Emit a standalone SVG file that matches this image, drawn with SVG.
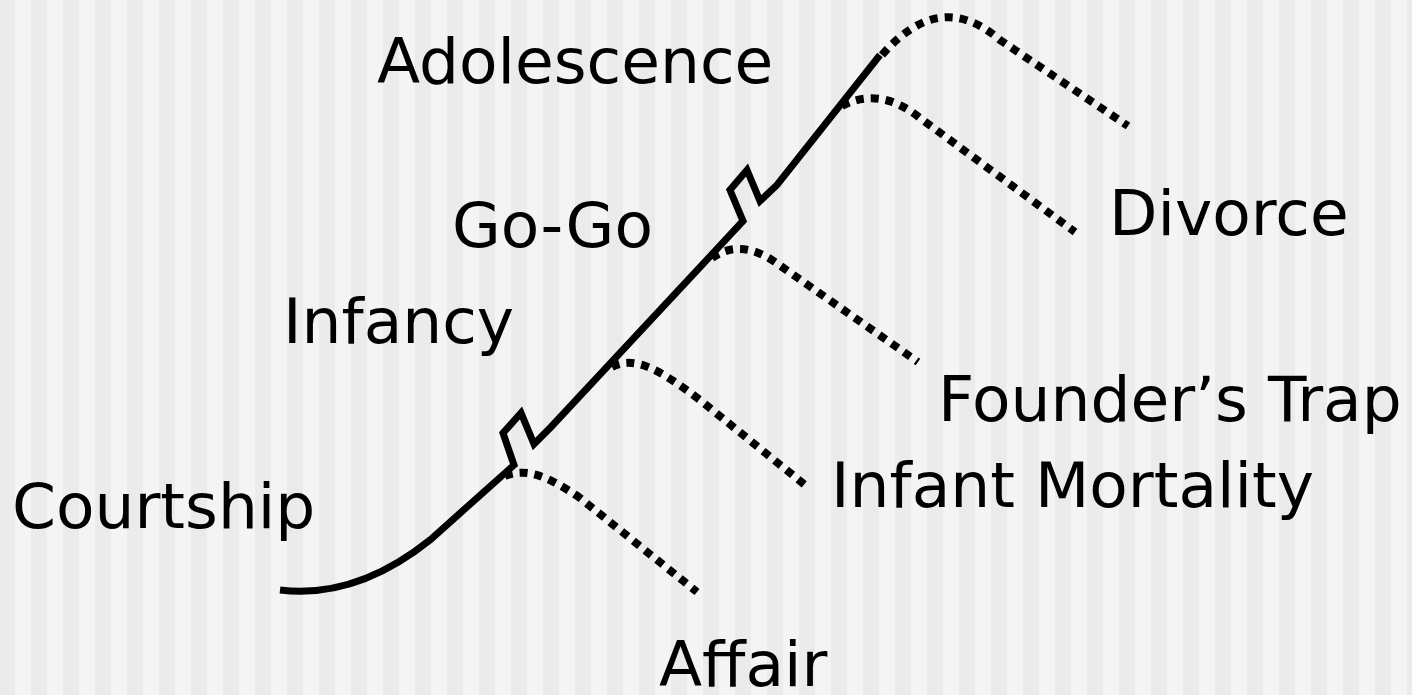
<svg xmlns="http://www.w3.org/2000/svg" width="1412" height="695" viewBox="0 0 1412 695">
<style>
.lbl{font-family:"DejaVu Sans","Verdana",sans-serif;font-size:63px;fill:#000}
.main{fill:none;stroke:#000;stroke-width:7;stroke-linejoin:miter;stroke-miterlimit:10}
.dot{fill:none;stroke:#000;stroke-width:8;stroke-dasharray:8 7}
</style>
<defs>
<pattern id="stripes" x="-1" y="0" width="32" height="695" patternUnits="userSpaceOnUse">
<rect x="0" y="0" width="16" height="695" fill="#ebebeb"/>
<rect x="16" y="0" width="16" height="695" fill="#f4f4f4"/>
</pattern>
</defs>
<rect x="0" y="0" width="1412" height="695" fill="url(#stripes)"/>
<g id="connectors">
<path class="main" d="M 280 590 C 330 596, 380 580, 430 540 L 514 465 L 503 433 L 521 413 L 534 444 L 551 427 L 743 221 L 730 190 L 747 170 L 760 201 L 777 185 L 880 55"/>
<path class="dot" d="M 882 55 Q 940 -12 1000 40 L 1128 126"/>
<path class="dot" d="M 842 106 Q 880 86 920 118 L 1075 232"/>
<path class="dot" d="M 712 258 Q 740 238 775 262 L 918 362"/>
<path class="dot" d="M 612 367 C 635 355, 660 370, 700 400 L 805 485"/>
<path class="dot" d="M 505 476 C 525 468, 545 474, 580 498 L 697 592"/>
</g>
<g id="adolescence"><text class="lbl" x="377" y="83">Adolescence</text></g>
<g id="gogo"><text class="lbl" x="452" y="247">Go-Go</text></g>
<g id="infancy"><text class="lbl" x="283" y="343">Infancy</text></g>
<g id="courtship"><text class="lbl" x="12" y="528">Courtship</text></g>
<g id="divorce"><text class="lbl" x="1109" y="235">Divorce</text></g>
<g id="founders-trap"><text class="lbl" x="938" y="421">Founder’s Trap</text></g>
<g id="infant-mortality"><text class="lbl" x="831" y="507">Infant Mortality</text></g>
<g id="affair"><text class="lbl" x="659" y="686">Affair</text></g>
</svg>
